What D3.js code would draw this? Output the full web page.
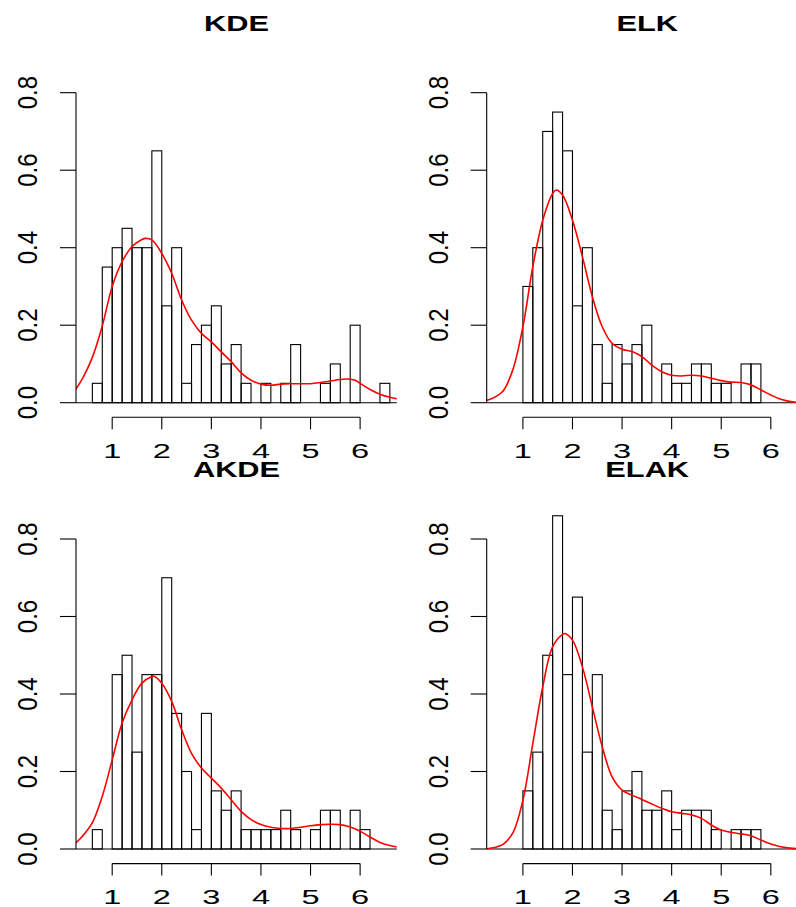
<!DOCTYPE html>
<html>
<head>
<meta charset="utf-8">
<script src="https://cdn.jsdelivr.net/npm/d3@7"></script>
<style>
  html, body { margin: 0; padding: 0; background: #fff; }
  svg { display: block; }
  text { font-family: "Liberation Sans", Arial, Helvetica, sans-serif; fill: #000; }
</style>
</head>
<body>
<svg id="chart" width="796" height="907"></svg>
<script>
// ---------------- data ----------------
const panelTitles = ["KDE", "ELK", "AKDE", "ELAK"];
const binWidth = 0.2;
const xTicks = [1, 2, 3, 4, 5, 6];
const yTicks = [0.0, 0.2, 0.4, 0.6, 0.8];
const yTickLabels = ["0.0", "0.2", "0.4", "0.6", "0.8"];

// histogram bins: lower edges and densities
const kdeBinStart  = [0.6,0.8,1.0,1.2,1.4,1.6,1.8,2.0,2.2,2.4,2.6,2.8,3.0,3.2,3.4,3.6,3.8,4.0,4.2,4.4,4.6,4.8,5.0,5.2,5.4,5.6,5.8,6.0,6.2,6.4];
const kdeDensity   = [0.05,0.35,0.40,0.45,0.40,0.40,0.65,0.25,0.40,0.05,0.15,0.20,0.25,0.10,0.15,0.05,0,0.05,0,0.05,0.15,0,0,0.05,0.10,0,0.20,0,0,0.05];

const elkBinStart  = [1.0,1.2,1.4,1.6,1.8,2.0,2.2,2.4,2.6,2.8,3.0,3.2,3.4,3.6,3.8,4.0,4.2,4.4,4.6,4.8,5.0,5.2,5.4,5.6];
const elkDensity   = [0.30,0.40,0.70,0.75,0.65,0.25,0.40,0.15,0.05,0.15,0.10,0.15,0.20,0,0.10,0.05,0.05,0.10,0.10,0.05,0.05,0,0.10,0.10];

const akdeBinStart = [0.6,0.8,1.0,1.2,1.4,1.6,1.8,2.0,2.2,2.4,2.6,2.8,3.0,3.2,3.4,3.6,3.8,4.0,4.2,4.4,4.6,4.8,5.0,5.2,5.4,5.6,5.8,6.0];
const akdeDensity  = [0.05,0,0.45,0.50,0.25,0.45,0.45,0.70,0.35,0.20,0.05,0.35,0.15,0.10,0.15,0.05,0.05,0.05,0.05,0.10,0.05,0,0.05,0.10,0.10,0,0.10,0.05];

const elakBinStart = [1.0,1.2,1.4,1.6,1.8,2.0,2.2,2.4,2.6,2.8,3.0,3.2,3.4,3.6,3.8,4.0,4.2,4.4,4.6,4.8,5.0,5.2,5.4,5.6];
const elakDensity  = [0.15,0.25,0.50,0.86,0.45,0.65,0.25,0.45,0.10,0.05,0.15,0.20,0.10,0.10,0.15,0.05,0.10,0.10,0.10,0.05,0,0.05,0.05,0.05];

// density curves (x, density)
const kdeCurveX  = [0.26,0.4,0.6,0.8,1.0,1.2,1.4,1.6,1.67,1.8,2.0,2.2,2.4,2.6,2.8,3.0,3.2,3.4,3.6,3.8,4.0,4.2,4.4,4.6,4.8,5.0,5.2,5.4,5.6,5.75,5.9,6.0,6.2,6.4,6.6,6.8];
const kdeCurveY  = [0.034,0.062,0.117,0.198,0.30,0.364,0.403,0.421,0.424,0.42,0.385,0.334,0.265,0.213,0.179,0.157,0.131,0.106,0.077,0.058,0.048,0.045,0.048,0.049,0.049,0.049,0.052,0.056,0.060,0.061,0.058,0.050,0.034,0.022,0.014,0.009];

const elkCurveX  = [0.25,0.4,0.6,0.8,1.0,1.2,1.4,1.6,1.67,1.8,2.0,2.2,2.4,2.6,2.8,3.0,3.2,3.4,3.6,3.8,4.0,4.2,4.4,4.6,4.8,5.0,5.2,5.4,5.6,5.8,6.0,6.2,6.5,6.8];
const elkCurveY  = [0.005,0.012,0.030,0.086,0.196,0.351,0.471,0.540,0.549,0.536,0.471,0.377,0.274,0.196,0.153,0.138,0.132,0.119,0.097,0.080,0.071,0.069,0.071,0.069,0.063,0.057,0.053,0.052,0.046,0.033,0.020,0.009,0.001,0.0];

const akdeCurveX = [0.26,0.4,0.6,0.8,1.0,1.2,1.4,1.6,1.8,1.84,2.0,2.2,2.4,2.6,2.8,3.0,3.2,3.4,3.6,3.8,4.0,4.2,4.4,4.6,4.8,5.0,5.2,5.4,5.6,5.8,6.0,6.2,6.4,6.6,6.8];
const akdeCurveY = [0.015,0.033,0.068,0.136,0.23,0.325,0.385,0.428,0.445,0.446,0.428,0.381,0.308,0.247,0.209,0.183,0.157,0.127,0.097,0.076,0.063,0.056,0.053,0.053,0.056,0.060,0.063,0.064,0.063,0.057,0.046,0.031,0.017,0.009,0.004];

const elakCurveX = [0.25,0.4,0.6,0.8,1.0,1.2,1.4,1.6,1.8,1.85,2.0,2.2,2.4,2.6,2.8,3.0,3.2,3.4,3.6,3.8,4.0,4.2,4.4,4.6,4.8,5.0,5.2,5.4,5.6,5.8,6.0,6.2,6.5,6.8];
const elakCurveY = [0.0,0.003,0.012,0.042,0.126,0.272,0.418,0.522,0.554,0.556,0.539,0.47,0.367,0.264,0.186,0.152,0.139,0.128,0.116,0.105,0.096,0.092,0.088,0.079,0.062,0.049,0.043,0.039,0.034,0.023,0.013,0.006,0.001,0.0];

const panels = [
  { title: panelTitles[0], binStart: kdeBinStart,  density: kdeDensity,  cx: kdeCurveX,  cy: kdeCurveY,  col: 0, row: 0 },
  { title: panelTitles[1], binStart: elkBinStart,  density: elkDensity,  cx: elkCurveX,  cy: elkCurveY,  col: 1, row: 0 },
  { title: panelTitles[2], binStart: akdeBinStart, density: akdeDensity, cx: akdeCurveX, cy: akdeCurveY, col: 0, row: 1 },
  { title: panelTitles[3], binStart: elakBinStart, density: elakDensity, cx: elakCurveX, cy: elakCurveY, col: 1, row: 1 }
];

// ---------------- layout ----------------
const svg = d3.select("#chart");
svg.append("rect").attr("width", 796).attr("height", 907).attr("fill", "#fff");

const colLeft = [76, 486.7];      // plot-region left edge (y axis)
const rowZero = [402.7, 849.0];   // y pixel of density 0
const plotW = 320.8;
const plotH = 310;                // 0 -> 0.8
const xDomain = [0.27, 6.74];

panels.forEach((p, i) => {
  const left = colLeft[p.col];
  const zero = rowZero[p.row];
  const x = d3.scaleLinear().domain(xDomain).range([left, left + plotW]);
  const y = d3.scaleLinear().domain([0, 0.8]).range([zero, zero - plotH]);

  const clipId = "clip" + i;
  svg.append("clipPath").attr("id", clipId)
    .append("rect").attr("x", left).attr("y", zero - 380).attr("width", plotW).attr("height", 400);

  const g = svg.append("g");

  // zero line
  g.append("line")
    .attr("x1", left).attr("x2", left + plotW)
    .attr("y1", zero).attr("y2", zero)
    .attr("stroke", "#000").attr("stroke-width", 1.1);

  // histogram bars
  const bins = p.binStart.map((s, k) => ({ s, d: p.density[k] })).filter(b => b.d > 0);
  g.selectAll("rect.bar").data(bins).enter().append("rect")
    .attr("class", "bar")
    .attr("x", b => x(b.s))
    .attr("y", b => y(b.d))
    .attr("width", b => x(b.s + binWidth) - x(b.s))
    .attr("height", b => y(0) - y(b.d))
    .attr("fill", "none")
    .attr("stroke", "#000")
    .attr("stroke-width", 1.1);

  // density curve
  const pts = p.cx.map((v, k) => [v, p.cy[k]]);
  const line = d3.line().x(d => x(d[0])).y(d => y(d[1])).curve(d3.curveCatmullRom.alpha(0.5));
  g.append("path")
    .attr("d", line(pts))
    .attr("clip-path", `url(#${clipId})`)
    .attr("fill", "none")
    .attr("stroke", "#ff0000")
    .attr("stroke-width", 1.6);

  // y axis
  const yAxisG = g.append("g");
  yAxisG.append("line")
    .attr("x1", left).attr("x2", left)
    .attr("y1", y(0)).attr("y2", y(0.8))
    .attr("stroke", "#000").attr("stroke-width", 1.1);
  yTicks.forEach((t, k) => {
    yAxisG.append("line")
      .attr("x1", left - 16).attr("x2", left)
      .attr("y1", y(t)).attr("y2", y(t))
      .attr("stroke", "#000").attr("stroke-width", 1.1);
    yAxisG.append("text")
      .attr("transform", `translate(${left - 39},${y(t)}) scale(1.15,1) rotate(-90)`)
      .attr("text-anchor", "middle")
      .attr("font-size", 24)
      .text(yTickLabels[k]);
  });

  // x axis (below plot)
  const axisY = zero + 14.6;
  const xAxisG = g.append("g");
  xAxisG.append("line")
    .attr("x1", x(xTicks[0])).attr("x2", x(xTicks[xTicks.length - 1]))
    .attr("y1", axisY).attr("y2", axisY)
    .attr("stroke", "#000").attr("stroke-width", 1.1);
  xTicks.forEach(t => {
    xAxisG.append("line")
      .attr("x1", x(t)).attr("x2", x(t))
      .attr("y1", axisY).attr("y2", axisY + 12)
      .attr("stroke", "#000").attr("stroke-width", 1.1);
    xAxisG.append("text")
      .attr("transform", `translate(${x(t)},${zero + 55}) scale(1.55,1)`)
      .attr("text-anchor", "middle")
      .attr("font-size", 21)
      .text(t);
  });

  // title
  g.append("text")
    .attr("transform", `translate(${left + 160.5},${zero - 372}) scale(1.4,1)`)
    .attr("text-anchor", "middle")
    .attr("font-size", 22)
    .attr("font-weight", "bold")
    .text(p.title);
});
</script>
</body>
</html>
